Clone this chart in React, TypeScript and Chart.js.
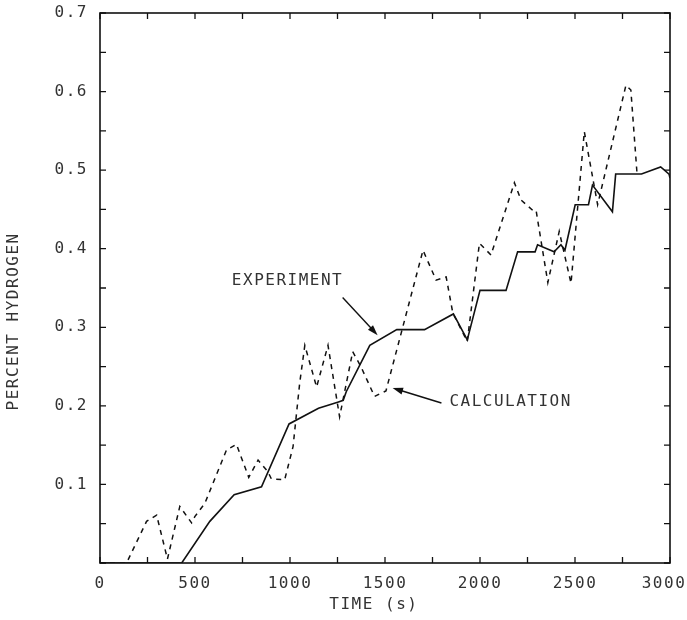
import React, { useEffect, useRef } from "react";
import { Chart, registerables } from "chart.js";

Chart.register(...registerables);

// ---- data (time in s, percent hydrogen) ----
const experimentTime = [0, 430, 578, 706, 850, 995, 1150, 1255, 1280, 1296, 1420, 1562, 1708, 1860, 1933, 2000, 2137, 2198, 2290, 2303, 2390, 2426, 2447, 2501, 2571, 2592, 2697, 2714, 2850, 2951, 2995, 3000];
const experimentH2 = [0, 0, 0.053, 0.087, 0.097, 0.177, 0.197, 0.205, 0.207, 0.218, 0.277, 0.297, 0.297, 0.317, 0.284, 0.347, 0.347, 0.396, 0.396, 0.405, 0.396, 0.405, 0.398, 0.456, 0.456, 0.481, 0.447, 0.495, 0.495, 0.504, 0.495, 0.49];

const calculationTime = [0, 140, 245, 298, 355, 420, 482, 499, 552, 666, 718, 783, 832, 884, 902, 972, 1016, 1051, 1078, 1140, 1200, 1261, 1330, 1373, 1445, 1505, 1700, 1769, 1822, 1857, 1933, 1997, 2058, 2181, 2216, 2277, 2295, 2357, 2417, 2479, 2549, 2619, 2768, 2794, 2826];
const calculationH2 = [0, 0, 0.053, 0.061, 0.005, 0.072, 0.051, 0.059, 0.076, 0.144, 0.151, 0.109, 0.131, 0.116, 0.107, 0.106, 0.148, 0.229, 0.277, 0.224, 0.277, 0.186, 0.269, 0.25, 0.212, 0.219, 0.398, 0.36, 0.364, 0.318, 0.282, 0.407, 0.392, 0.484, 0.462, 0.449, 0.449, 0.357, 0.422, 0.356, 0.549, 0.456, 0.608, 0.602, 0.497];

const xLabelTicks = [0, 500, 1000, 1500, 2000, 2500, 3000];
const yLabelTicks = [0.1, 0.2, 0.3, 0.4, 0.5, 0.6, 0.7];

// trailing spaces keep the titles where the original typeset them (off-centre)
const xTitle = "TIME (s)  ";
const yTitle = "PERCENT HYDROGEN      ";

// annotations (data coordinates)
const expNote = { text: "EXPERIMENT", x: 694, y: 0.359 };
const expArrow = { fromX: 1277, fromY: 0.338, toX: 1461, toY: 0.29 };
const calcNote = { text: "CALCULATION", x: 1839, y: 0.205 };
const calcArrow = { fromX: 1797, fromY: 0.2036, toX: 1540, toY: 0.2227 };

const FONT_FAMILY = "'DejaVu Sans Mono', 'Liberation Mono', monospace";
const INK = "#111";
const TEXT = "#333";

const near = (v: number, list: number[]) => list.some((t) => Math.abs(t - v) < 1e-6);

const framePlugin = {
  id: "frameAndNotes",
  beforeUpdate(chart: any) {
    chart.ctx.letterSpacing = "1.5px";
  },
  beforeDraw(chart: any) {
    chart.ctx.letterSpacing = "1.5px";
    // keep the last x label inside the canvas, as in the original
    const items = chart.scales.x.getLabelItems();
    for (const it of items) {
      if (it.label === "3000" && !it._shifted) {
        it.options.translation[0] -= 6;
        it._shifted = true;
      }
    }
  },
  afterDatasetsDraw(chart: any) {
    const { ctx, chartArea: a, scales } = chart;
    const xs = scales.x;
    const ys = scales.y;
    ctx.save();
    ctx.letterSpacing = "0px";
    ctx.strokeStyle = INK;
    ctx.lineWidth = 1.6;
    ctx.strokeRect(a.left, a.top, a.right - a.left, a.bottom - a.top);

    ctx.lineWidth = 1.3;
    const tl = 6;
    ctx.beginPath();
    for (const t of xs.ticks) {
      const px = xs.getPixelForValue(t.value);
      ctx.moveTo(px, a.bottom);
      ctx.lineTo(px, a.bottom - tl);
      ctx.moveTo(px, a.top);
      ctx.lineTo(px, a.top + tl);
    }
    for (const t of ys.ticks) {
      const py = ys.getPixelForValue(t.value);
      ctx.moveTo(a.left, py);
      ctx.lineTo(a.left + tl, py);
      ctx.moveTo(a.right, py);
      ctx.lineTo(a.right - tl, py);
    }
    ctx.stroke();

    // notes
    ctx.letterSpacing = "1.5px";
    ctx.fillStyle = TEXT;
    ctx.font = `16px ${FONT_FAMILY}`;
    ctx.textBaseline = "middle";
    ctx.textAlign = "left";
    for (const n of [expNote, calcNote]) {
      ctx.fillText(n.text, xs.getPixelForValue(n.x), ys.getPixelForValue(n.y));
    }
    ctx.letterSpacing = "0px";
    const drawArrow = (ar: any) => {
      const x1 = xs.getPixelForValue(ar.fromX);
      const y1 = ys.getPixelForValue(ar.fromY);
      const x2 = xs.getPixelForValue(ar.toX);
      const y2 = ys.getPixelForValue(ar.toY);
      const ang = Math.atan2(y2 - y1, x2 - x1);
      ctx.strokeStyle = INK;
      ctx.fillStyle = INK;
      ctx.lineWidth = 1.4;
      ctx.beginPath();
      ctx.moveTo(x1, y1);
      ctx.lineTo(x2 - 6 * Math.cos(ang), y2 - 6 * Math.sin(ang));
      ctx.stroke();
      const hl = 11;
      const hw = 0.32;
      ctx.beginPath();
      ctx.moveTo(x2, y2);
      ctx.lineTo(x2 - hl * Math.cos(ang - hw), y2 - hl * Math.sin(ang - hw));
      ctx.lineTo(x2 - hl * Math.cos(ang + hw), y2 - hl * Math.sin(ang + hw));
      ctx.closePath();
      ctx.fill();
    };
    drawArrow(expArrow);
    drawArrow(calcArrow);
    ctx.restore();
  },
};

export default function App() {
  const ref = useRef<HTMLCanvasElement | null>(null);
  useEffect(() => {
    document.body.style.margin = "0";
    const canvas = ref.current;
    if (!canvas) return;
    const font = { family: FONT_FAMILY, size: 16 };
    const chart = new Chart(canvas, {
      type: "line",
      data: {
        datasets: [
          {
            label: "Experiment",
            data: experimentTime.map((t, i) => ({ x: t, y: experimentH2[i] })),
            borderColor: INK,
            borderWidth: 1.6,
            pointRadius: 0,
            tension: 0,
            fill: false,
          },
          {
            label: "Calculation",
            data: calculationTime.map((t, i) => ({ x: t, y: calculationH2[i] })),
            borderColor: INK,
            borderWidth: 1.5,
            borderDash: [5, 5],
            pointRadius: 0,
            tension: 0,
            fill: false,
          },
        ],
      },
      options: {
        animation: false,
        responsive: false,
        devicePixelRatio: 1,
        layout: { padding: { top: 13, right: 17, bottom: 0, left: 0 } },
        plugins: { legend: { display: false }, tooltip: { enabled: false } },
        scales: {
          x: {
            type: "linear",
            min: 0,
            max: 3000,
            grid: { display: false },
            border: { display: false },
            ticks: {
              stepSize: 250,
              autoSkip: false,
              maxRotation: 0,
              padding: 3,
              color: TEXT,
              font,
              callback: (v: any) => (near(Number(v), xLabelTicks) ? String(v) : ""),
            },
            title: { display: true, text: xTitle, color: TEXT, font, padding: { top: 0, bottom: 6 } },
            afterFit: (s: any) => {
              s.height = 57;
              s.paddingLeft = 0;
              s.paddingRight = 0;
            },
          },
          y: {
            type: "linear",
            min: 0,
            max: 0.7,
            grid: { display: false },
            border: { display: false },
            ticks: {
              stepSize: 0.05,
              autoSkip: false,
              padding: 4,
              color: TEXT,
              font,
              callback: (v: any) => (near(Number(v), yLabelTicks) ? Number(v).toFixed(1) : ""),
            },
            title: { display: true, text: yTitle, color: TEXT, font, padding: { top: 4, bottom: 0 } },
            afterFit: (s: any) => {
              s.width = 100;
              s.paddingTop = 0;
              s.paddingBottom = 0;
            },
          },
        },
      },
      plugins: [framePlugin],
    });
    return () => chart.destroy();
  }, []);
  return (
    <div style={{ width: 687, height: 620 }}>
      <canvas ref={ref} width={687} height={620} style={{ display: "block" }} />
    </div>
  );
}
